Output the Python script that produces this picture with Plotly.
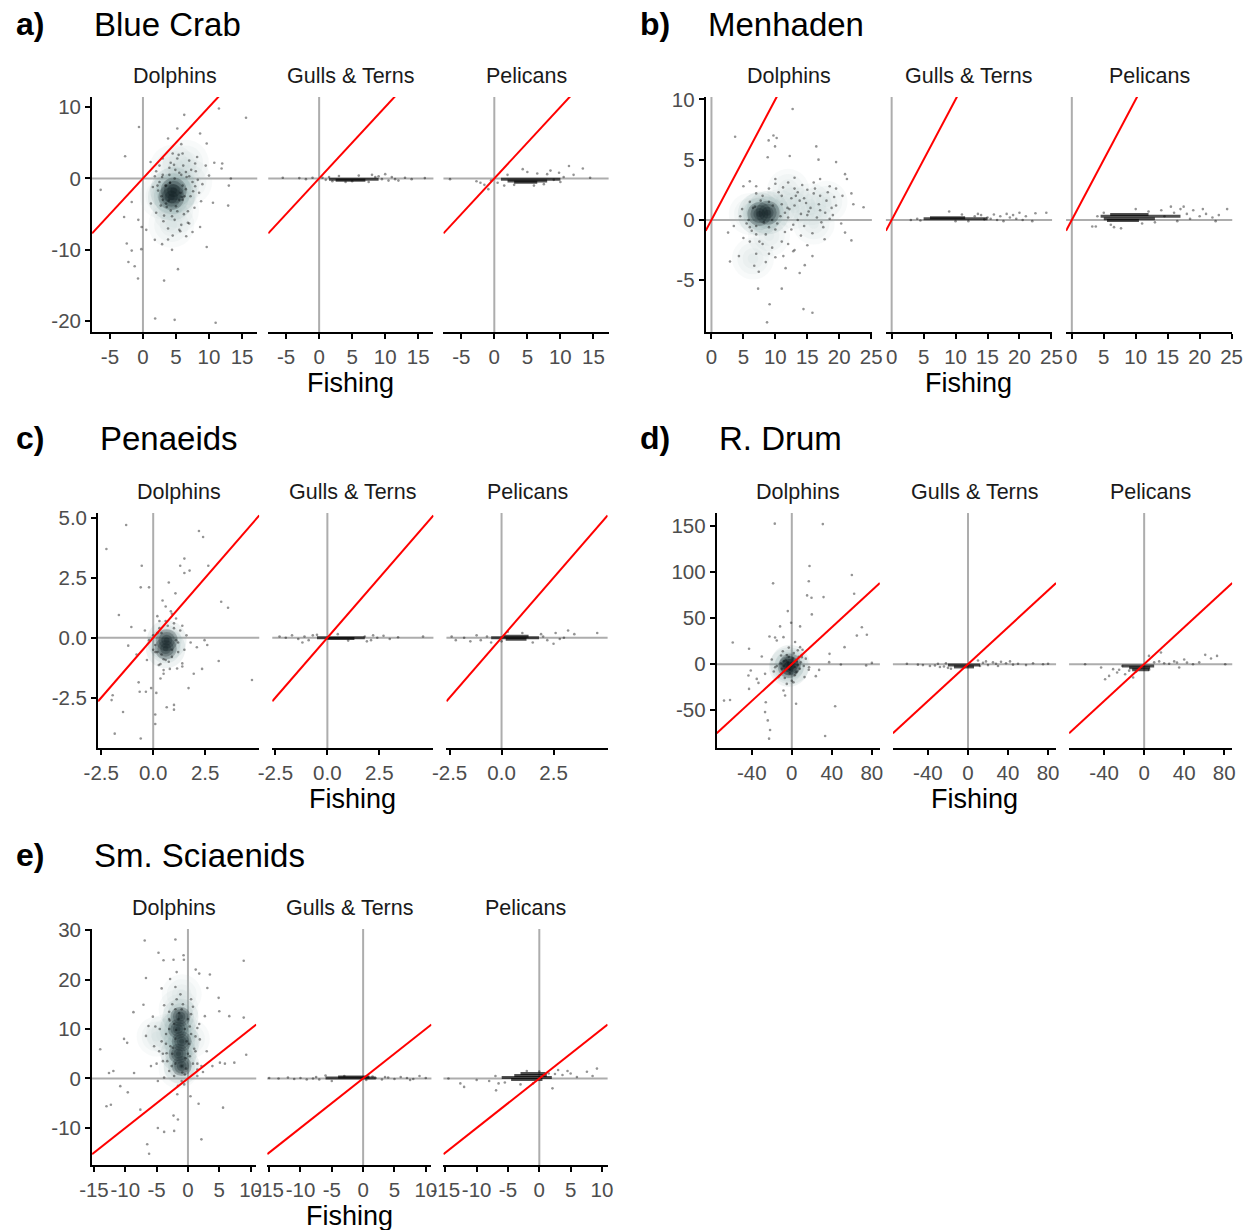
import plotly.graph_objects as go

W, H = 1250, 1230

# ------------------------------------------------------------------ data
PANEL_LABELS = ["a)", "b)", "c)", "d)", "e)"]
PANEL_TITLES = ["Blue Crab", "Menhaden", "Penaeids", "R. Drum", "Sm. Sciaenids"]
FACETS = ["Dolphins", "Gulls & Terns", "Pelicans"]
X_LABEL = "Fishing"

X_RANGES = [[-7.7, 17.3], [-0.9, 25.1], [-2.65, 5.1], [-75, 88], [-15.3, 10.9]]
Y_RANGES = [[-21.5, 11.4], [-9.3, 10.2], [-4.6, 5.2], [-91, 164], [-17.5, 30.2]]
X_TICKS = [[-5, 0, 5, 10, 15], [0, 5, 10, 15, 20, 25], [-2.5, 0, 2.5], [-40, 0, 40, 80],
           [-15, -10, -5, 0, 5, 10]]
X_TICKTEXT = [["-5", "0", "5", "10", "15"], ["0", "5", "10", "15", "20", "25"],
              ["-2.5", "0.0", "2.5"], ["-40", "0", "40", "80"],
              ["-15", "-10", "-5", "0", "5", "10"]]
Y_TICKS = [[-20, -10, 0, 10], [-5, 0, 5, 10], [-2.5, 0, 2.5, 5], [-50, 0, 50, 100, 150],
           [-10, 0, 10, 20, 30]]
Y_TICKTEXT = [["-20", "-10", "0", "10"], ["-5", "0", "5", "10"],
              ["-2.5", "0.0", "2.5", "5.0"], ["-50", "0", "50", "100", "150"],
              ["-10", "0", "10", "20", "30"]]

# ---- a) Blue Crab
A_DOL_X = [6.25, 11.5, 15.6, -0.6, -2.7, -6.4, 5.2, 3.8, 5.8, 8.65, 9.65, 1.15, 12.0, 13.3, 13.0,
           12.9, 10.6, 8.65, 9.65, -1.7, -2.85, -0.7, -0.2, -2.45, -1.7, -0.25, -2.2, -1.25, -0.75,
           5.3, 3.2, 1.85, 4.8, 11.0, 4.4, 2.9, 1.8, 3.8, 0.5, 7.5, 6.55, 5.65, 7.0, 10.0, 10.8, 11.9,
           2.0, 2.5, 3.0, 3.5, 4.0, 4.2, 5.5, 6.0, 6.5, 7.0, 7.2, 7.8, 8.0, 8.5, 2.8, 1.5, 3.2, 4.8,
           5.8, 6.2, 5.2, 6.0, 7.0, 8.2, 9.0, 9.5, 1.2, 2.0, 3.8, 4.5, 1.8, 6.8, 7.5, 3.0, 4.5, 8.8,
           4.1, 5.0, 5.9, 3.4, 6.6, 4.7, 2.3, 7.9,
           3.5, 4.0, 5.5, 6.0, 3.0, 4.8, 5.8, 6.3, 3.6, 5.2, 2.5, 4.2, 7.3, 7.6, 2.2, 3.1, 5.5, 6.8,
           4.4, 8.3, 2.7, 4.9, 6.1, 3.9, 5.7, 4.1, 6.5, 2.9, 5.4, 7.9]
A_DOL_Y = [8.9, 9.8, 8.5, 7.2, 3.1, -1.6, 7.0, 5.6, 4.8, 6.3, 4.9, 2.3, 2.1, 0.0, -1.0,
           -3.8, -3.4, -6.8, -9.6, -3.3, -5.4, -5.8, -6.8, -9.1, -10.1, -9.9, -11.7, -12.3, -14.0,
           -12.7, -14.3, -19.6, -19.8, -20.2, -10.0, -9.2, -8.6, -8.55, -7.2, -7.5, -8.1, -7.4, -6.3,
           0.4, 2.2, 1.4,
           1.0, -0.5, 0.5, -3.5, 1.5, -4.5, 0.8, -3.0, -1.5, 0.3, -2.5, -4.1, 1.0, -2.0, -2.5, -1.2,
           -5.2, -5.8, -6.5, -5.0, 2.8, 3.5, 2.5, 3.0, -0.8, 1.8, -3.5, -4.8, -7.0, -8.0, 0.3, -6.2,
           -0.5, 2.8, 3.5, -3.2, -0.6, -3.9, -2.6, -1.0, 0.2, 1.9, -1.7, -1.1,
           -1.0, 0.5, -3.0, -1.0, -3.0, 0.0, 0.5, -2.5, -4.0, -4.6, 1.8, 2.2, 1.2, -1.8, -1.0, -6.0,
           -7.2, -4.6, -5.3, -0.2, -3.8, 1.2, 1.8, -3.1, -2.0, -0.6, 0.9, 0.2, 3.3, 2.1]
A_DOL_CORE_X = [4.65, 4.3]
A_DOL_CORE_Y = [-1.7, -2.6]
A_DOL_HALO_X = [5.0, 4.5, 5.0, 4.3, 7.0, 3.0, 6.5]
A_DOL_HALO_Y = [-1.5, 1.5, -4.5, -6.5, -0.5, -2.5, 2.2]

A_GUL_X = [-5.5, -3.0, -2.0, -1.0, 0.5, 1.0, 1.5, 9.0, 9.5, 10.0, 11.0, 12.0, 13.0, 14.0, 8.0,
           7.5, 10.5, 6.0, 3.0, 4.0, 5.0, 2.0, 8.5, 11.5, 16.0]
A_GUL_Y = [0.1, 0.05, -0.1, 0.1, 0.1, -0.2, 0.2, 0.3, -0.1, 0.6, 0.2, -0.3, 0.1, -0.1, 0.5,
           -0.5, -0.3, 0.4, 0.35, -0.5, -0.4, -0.4, 0.2, -0.1, 0.05]
A_GUL_BAND_X0 = [1.5, 2.5]
A_GUL_BAND_X1 = [9.0, 7.0]
A_GUL_BAND_Y = [-0.1, -0.25]

A_PEL_X = [-6.7, -2.7, -2.1, -0.9, -1.5, -0.5, 0.5, 4.3, 5.0, 6.5, 8.0, 9.8, 11.3, 13.4, 12.0,
           10.5, 9.0, 7.5, 3.0, 2.0, 1.5, 14.5, 6.0, 8.5, 10.0]
A_PEL_Y = [-0.1, -0.4, -0.6, -1.5, -0.9, -0.3, -0.6, 1.3, 0.9, 0.7, 0.6, 0.8, 1.75, 1.4, 0.5,
           0.2, -0.2, -0.8, -0.9, 0.5, -1.0, 0.1, -1.0, 1.1, -0.5]
A_PEL_BAND_X0 = [1.0, 2.0, 3.0]
A_PEL_BAND_X1 = [10.0, 8.0, 6.5]
A_PEL_BAND_Y = [-0.1, -0.35, -0.55]

# ---- b) Menhaden
B_DOL_X = [12.7, 3.7, 9.7, 10.2, 8.95, 9.95, 16.4, 8.8, 12.25, 16.75, 19.5, 20.9, 21.2, 21.9, 23.8,
           22.2, 20.3, 20.9, 21.9, 17.7, 15.8, 14.6, 13.8, 12.8, 11.25, 11.6, 11.0, 7.3, 9.1, 14.4,
           15.8, 8.7, 2.9, 2.6, 4.3, 6.7, 7.4,
           5.0, 6.0, 7.0, 9.0, 10.0, 11.0, 12.0, 13.0, 13.5, 14.0, 15.0, 15.5, 16.0, 16.5, 17.0,
           17.5, 18.0, 18.5, 19.0, 19.5, 12.5, 11.0, 9.5, 8.0, 7.0, 6.0, 5.0, 4.5, 3.5, 14.0, 15.0,
           13.0, 10.0, 8.5, 7.0, 11.5, 20.5, 17.0, 13.0,
           6.0, 7.0, 9.0, 10.0, 11.0, 12.0, 8.0, 6.5, 9.5, 10.5, 12.5, 13.5, 14.5, 15.0, 16.0, 17.0,
           18.5, 11.5, 8.5, 7.5, 5.5, 4.8, 13.0, 14.5, 19.5, 10.0, 7.0, 6.0, 12.0, 9.0,
           6.8, 8.2, 9.6, 10.8, 5.8, 7.7, 9.0, 11.9, 6.3, 10.3,
           12.2, 13.8, 15.2, 16.8, 18.2, 19.2, 14.2, 16.2, 17.8, 12.8, 11.2, 15.8, 18.8, 13.2,
           17.2, 14.8]
B_DOL_Y = [9.2, 6.9, 7.0, 6.8, 6.6, 6.1, 6.1, 5.2, 5.3, 5.0, 4.8, 3.8, 3.4, 2.2, 1.05,
           1.3, -0.3, -1.05, -1.7, -1.6, -3.0, -3.75, -4.4, -2.6, -3.0, -4.0, -5.7, -5.7, -7.0, -7.4,
           -7.7, -8.5, -3.45, -1.05, -3.0, -3.8, -4.3,
           2.8, 3.2, 2.2, 2.6, 3.4, 2.0, 3.1, 1.2, 2.3, 0.5, 2.5, 1.0, 3.1, 0.2, 2.0,
           -0.6, 1.6, 2.8, 0.4, 1.2, -0.8, -1.8, -2.3, -2.0, -1.2, -0.6, -1.5, 0.3, -0.5, -1.3, -2.1,
           -2.5, -3.1, -3.5, -2.8, 0.6, 2.0, 3.4, 3.5,
           1.5, -0.5, 1.5, -0.8, 1.3, 0.2, 2.0, 1.0, 0.0, 2.3, 1.8, 0.0, 1.8, 0.4, 2.2, 0.8,
           0.1, -1.0, -1.2, -1.8, -0.3, 0.9, 2.6, -0.5, 2.6, 3.0, 2.8, -1.8, -2.0, -2.8,
           1.1, -0.2, 1.2, 0.3, 0.0, 1.6, -0.6, 1.0, -0.9, -0.3,
           0.9, 1.6, 0.7, 1.3, 2.3, 1.9, 2.9, 2.6, 0.6, -0.4, 2.7, -1.1, 1.0, 2.0, -0.2, 1.4]
B_DOL_CORE_X = [7.5, 8.8]
B_DOL_CORE_Y = [0.5, 0.6]
B_DOL_HALO_X = [8.0, 6.0, 10.5, 13.0, 15.5, 18.0, 12.0, 9.0, 6.5, 16.0]
B_DOL_HALO_Y = [0.7, 0.5, 0.8, 1.0, 1.3, 1.5, 2.5, -1.3, -3.2, -0.3]

B_GUL_X = [3.0, 4.0, 4.5, 9.0, 13.0, 14.0, 15.0, 16.0, 17.0, 18.0, 18.5, 19.0, 19.5, 20.0, 21.0,
           22.5, 24.2, 22.0, 17.5, 12.0, 15.5, 20.5, 11.0, 10.0, 14.5, 16.5, 13.5]
B_GUL_Y = [0.0, 0.1, -0.05, 0.7, 0.3, 0.4, 0.2, 0.45, 0.3, 0.5, 0.2, 0.4, 0.1, 0.6, 0.3,
           0.55, 0.6, -0.1, -0.1, -0.1, 0.1, 0.0, 0.45, -0.1, 0.05, 0.0, 0.5]
B_GUL_BAND_X0 = [5.0, 6.0]
B_GUL_BAND_X1 = [15.0, 11.5]
B_GUL_BAND_Y = [0.1, 0.18]

B_PEL_X = [3.2, 3.75, 6.1, 6.6, 7.7, 5.0, 4.0, 10.0, 12.0, 14.0, 15.5, 16.0, 17.0, 17.5, 18.0,
           19.0, 20.0, 21.0, 22.0, 23.0, 24.3, 18.5, 16.5, 14.5, 13.0, 11.0, 20.5, 22.5]
B_PEL_Y = [-0.55, -0.55, -0.4, -0.6, -0.7, 0.6, 0.3, 0.9, 0.7, 0.8, 1.1, 0.6, 0.9, 1.1, 0.5,
           0.8, 0.3, 0.5, 0.2, 0.4, 0.9, 0.1, -0.1, 0.3, -0.2, -0.3, 0.9, -0.1]
B_PEL_BAND_X0 = [4.5, 5.0, 6.0, 5.5]
B_PEL_BAND_X1 = [17.0, 13.0, 12.0, 10.5]
B_PEL_BAND_Y = [0.3, 0.1, 0.45, -0.05]

# ---- c) Penaeids
C_DOL_X = [-1.3, -2.25, 2.2, 2.4, 1.5, 1.3, 1.75, 1.5, 2.65, -0.55, -0.6, -0.2, 0.75, 3.27, 3.6,
           -1.65, -1.05, -1.2, -0.8, 2.6, 2.47, 2.1, 3.15, 2.35, 1.95, 1.7, 4.75, -0.7, -0.65,
           -0.35, -0.1, 0.15, -1.95, -2.0, -1.45, 0.1, 0.1, 0.65, 1.0, 1.0, -1.85, -0.6,
           1.4, 1.15, 0.5, 0.27, -0.3, 0.35, 0.6, 0.1, 0.85, 0.45, 1.07, 0.6,
           0.3, 1.0, 1.2, 0.1, 0.4, 0.9, 0.2, 1.3, 0.0, 0.6, 0.75, 1.5, 1.1, 0.35, -0.2, 1.6, 0.9,
           0.5, 1.4, 0.2, -0.4, 1.8,
           0.4, 0.9, 0.7, 1.1, 0.2, 0.5, 1.0, 0.3, 1.2, 0.8, 0.0, 1.4]
C_DOL_Y = [4.7, 3.7, 4.45, 4.2, 3.3, 3.0, 2.8, 2.7, 3.0, 3.0, 2.1, 2.1, 2.3, 1.5, 1.25,
           0.95, 0.45, -0.33, -0.7, -0.3, -0.1, -0.4, -0.97, -1.3, -1.5, -2.1, -1.76, -1.86, -2.25,
           -2.25, -2.1, -2.3, -2.4, -2.6, -3.1, -3.2, -3.6, -2.9, -2.8, -3.0, -4.0, -4.2,
           -1.07, -1.28, -1.35, -1.14, -0.93, -1.7, -0.93, -0.6, 1.1, 1.55, 1.85, 1.3,
           0.4, 0.4, -0.2, -0.3, -0.7, -0.8, 0.2, 0.3, 0.1, 0.7, -1.0, -0.5, 0.8, -1.1, -0.1, 0.1,
           1.0, -1.5, -1.2, 0.9, 0.3, -0.2,
           0.2, -0.5, 0.5, -0.1, -0.6, -0.9, 0.6, 0.7, -0.6, -1.3, -0.5, 0.5]
C_DOL_CORE_X = [0.65, 0.6]
C_DOL_CORE_Y = [-0.1, -0.45]
C_DOL_HALO_X = []
C_DOL_HALO_Y = []

C_GUL_X = [-2.3, -2.0, -1.7, -1.4, -1.1, -0.9, -0.7, 1.8, 2.1, 2.4, 2.7, 3.0, 3.4, 4.6, 1.9,
           0.5, 1.0, -1.2, -0.5, 2.2]
C_GUL_Y = [0.05, 0.0, 0.1, -0.05, 0.05, -0.1, 0.1, 0.05, -0.1, 0.0, 0.08, -0.05, 0.02, 0.05,
           -0.15, 0.15, -0.12, -0.2, 0.12, 0.1]
C_GUL_BAND_X0 = [-0.5, 0.0]
C_GUL_BAND_X1 = [1.8, 1.3]
C_GUL_BAND_Y = [0.0, -0.03]

C_PEL_X = [3.2, 2.6, 4.6, 3.5, 2.2, 2.5, 1.9, -2.2, -1.8, -1.5, -1.0, -0.7, -0.5, 0.0, -1.2,
           2.0, 3.0, -2.4, 0.3, 1.5, 1.0, 2.8]
C_PEL_Y = [0.3, 0.2, 0.2, 0.15, -0.1, -0.25, 0.15, -0.1, 0.0, -0.15, -0.1, 0.05, -0.2, -0.15,
           0.1, 0.05, 0.0, 0.05, 0.25, -0.2, 0.2, -0.05]
C_PEL_BAND_X0 = [-0.5, 0.1, 0.2]
C_PEL_BAND_X1 = [1.8, 1.3, 1.2]
C_PEL_BAND_Y = [0.0, 0.06, -0.06]

# ---- d) R. Drum
D_DOL_X = [-17, 31, -18.7, 17.7, 17, 15.3, 19.7, 31.7, 60, 62.3, 20, -4, 70, 65, 75, -11.7, -16.7,
           -22.3, -59, -42.7, 8.3, -0.7, 52.7, 37.7, 49, 74.3, 80, 37.3, 27.3, 24, -41, -42.7,
           -33.3, -67.7, -61.7, -26, -26.7, -24, -21.7, -22.7, 4.3, -6.7, -8.3, 43.3, 33.3, -30,
           8.3, 10.7, -16.7, -13.3, -5, 1.7, 12.7, 17.3, 10, -10.7, -15, -8.3, 3.3, -35, -43.3,
           -26.7,
           -10, -8, 5, 7, -12, 10, -5, 3, -15, 12, -7, 6, 0, -3, 14, -18, 8, -2, 2, -20, 17, -9,
           -4, 3, -6, 5, -2, 1, -8, 6, -3, 4, -11, 9]
D_DOL_Y = [152.5, 152, 87.7, 106.5, 90, 74.6, 72, 72.8, 96.7, 76.4, 54, 57.6, 40, 31, 32, 41, 29,
           30, 23.5, 16.7, 41, 45, 18.5, 11.2, -0.4, -1.4, 1.4, 2.2, -6.2, -13, -6.9, -26.8,
           -20.3, -39.5, -38.8, -41.3, -52, -61, -71.4, -80.8, -43, -34, -28.6, -45.7, -78, 8.3,
           18.5, 15.6, -3.3, -14, -21.4, -19.6, -14, -3.3, 7.6, 9.4, 25.7, 29.3, 24, -16, -12.3,
           -10.5,
           -5, 3, -8, 8, -12, 10, 10, -12, -2, -2, -15, 15, -18, 18, 6, -8, -5, -10, 12, 5, -6, 14,
           2, -3, 4, 3, -6, 6, -2, -1, 8, -9, 1, 2]
D_DOL_CORE_X = [-1.7, -3.0]
D_DOL_CORE_Y = [-0.4, -3.0]
D_DOL_HALO_X = []
D_DOL_HALO_Y = []

D_GUL_X = [-61, -45, -38, -33, -28, -24, -20, -22, 15, 20, 25, 28, 33, 38, 45, 50, 58, 65, 75,
           80, 12, 18, -30, -17, 10, 42, -50, 30]
D_GUL_Y = [0.5, -1, -2, -1.5, -3, -2.5, -4, 1, 1.5, -1, 2, 0.5, 2.5, 1, -0.5, 0.5, -1, 1, 0,
           0.5, -2, 3, 0.5, -5, 4, 3, -0.5, -2]
D_GUL_BAND_X0 = [-20, -14]
D_GUL_BAND_X1 = [12, 6]
D_GUL_BAND_Y = [-1, -3]

D_PEL_X = [61, 72.8, 66.8, 16.8, 4.8, 32.8, 42.8, 48.8, -39, -35, -27, -31, -59, -43, -19, -11,
           35, 81, -25, -15, -8, 5, 10, 15, 20, 25, -22, 55, 40, 30]
D_PEL_Y = [10.1, 9, 6.2, 12.7, 9, 1.8, 1.8, 0, -16.3, -12.7, -9, -5.4, 0, -3.6, -10.9, -14.5,
           -3.6, 0, -6, -7, -8, -6, 2, 3, 1, 0.5, -2, 2, 5, 3]
D_PEL_BAND_X0 = [-22, -15, -12]
D_PEL_BAND_X1 = [10, 6, 5]
D_PEL_BAND_Y = [-2, -4, -6]

# ---- e) Sm. Sciaenids
E_DOL_X = [-6.9, -2.0, -0.7, -0.65, -4.7, -3.9, -2.3, 8.9, 1.24, 1.8, 3.5, -6.7, -2.85, -1.8, 3.1,
           -4.2, -7.1, -8.7, 4.9, 5.0, 6.6, 8.9, -14, -10.2, -9.7, -12.6, -11.9, -8.6, -10.8, -9.6,
           -13.0, -12.3, -7.6, -1.7, 0.4, 1.7, 5.6, -2.3, -1.6, -4.8, -3.8, -2.2, 2.15, -6.5, -6.2,
           2.15, 2.4, 3.9, 5.1, 5.9, 7.4, 9.3, 3.0, 1.9, 1.5, 2.7, 0.5, -6.3, -6.7, -5.4, -5.9,
           -4.8,
           -4.0, -3.5, -3.0, -2.5, -2.0, -3.0, -1.0, 0.0, 0.5, 1.0, 1.5, -0.3, -2.8, -4.5, -5.0,
           -1.2, 0.8, -3.8, -2.2, -0.5, 1.8, -5.6, 0.3, -3.3, -4.2, 1.2, -2.0, -0.6, 1.5, -1.6,
           -2.0, -1.5, -0.5, -2.5, 0.0, -3.0, -1.0, -2.0, 0.5, -3.5, -1.8, 0.8, -2.6, -4.0, 1.2,
           -0.2, -3.0, -4.6, -0.8, 0.3, -2.2, -1.0, -3.8, 1.5, -5.2,
           -2.4, -0.4, -1.9, -2.9, 0.2, -3.4, -1.4, -0.9]
E_DOL_Y = [27.9, 28.1, 24.9, 24.0, 25.4, 23.9, 24.0, 23.8, 22.0, 21.2, 21.0, 20.3, 20.1, 21.5,
           18.3, 18.2, 14.9, 13.4, 16.3, 13.6, 12.6, 12.3, 5.9, 8.0, 7.2, 1.1, 1.5, 1.1, -1.55,
           -2.8, -5.6, -5.3, -6.3, -3.2, -3.6, -5.1, -5.9, -7.5, -8.3, -10.0, -10.8, -10.6, -12.3,
           -13.3, -15.2, 2.5, 1.3, 2.5, 3.2, 3.0, 3.2, 4.8, 5.5, 7.9, 10.2, 12.6, 16.0, 10.6, 8.6,
           6.5, 2.5, -0.5,
           5.0, 9.0, 12.0, 15.0, 3.0, 1.5, 14.0, 12.0, 9.0, 6.0, 3.0, 2.0, 6.5, 10.0, 3.0,
           17.0, 14.5, 14.8, 0.5, 0.8, 11.0, 12.5, 4.5, 3.5, 7.5, 8.5, 18.5, -1.2, 0.5, -1.5,
           8.0, 12.0, 10.0, 5.0, 5.0, 10.0, 2.5, 14.0, 13.0, 7.0, 16.0, 3.0, 2.5, 3.5, 5.5,
           7.5, 13.5, 5.5, 15.0, 10.5, 11.0, -0.5, 0.2, 1.8, 10.5,
           6.2, 4.1, 9.8, 11.7, 7.0, 5.1, 13.2, 1.2]
E_DOL_CORE_X = [-1.0, -1.5, -1.0, -1.6, -1.2]
E_DOL_CORE_Y = [2.5, 5.0, 7.5, 10.0, 12.5]
E_DOL_HALO_X = [-1.5, -1.5, -1.5, -1.5, -3.5, 0.3, -5.0, -1.0]
E_DOL_HALO_Y = [2.0, 6.0, 10.0, 14.0, 9.0, 8.0, 8.5, 17.0]

E_GUL_X = [-15, -13.5, -12, -11, -10, -9, -8, -7.5, -7, 2, 3, 4, 5, 6, 7, 8, 9, 10, 1.5, -6, -5,
           0.5, 3.5, -3, 7.5]
E_GUL_Y = [0.1, 0.0, 0.2, -0.1, 0.1, -0.2, 0.0, 0.3, -0.2, 0.1, -0.2, 0.2, -0.1, 0.3, 0.1, -0.1,
           0.5, 0.1, 0.4, 0.6, -0.5, -0.3, 0.3, 0.5, -0.3]
E_GUL_BAND_X0 = [-6.0, -4.0]
E_GUL_BAND_X1 = [2.0, 1.0]
E_GUL_BAND_Y = [0.1, 0.3]

E_PEL_X = [-14.5, -12.6, -12, -10, -8, -6.5, -6.9, -7, -5.5, 9.2, 7.6, 5, 3.7, 2.1, 6, 4.5, 2.5,
           8.5, 3, 1.5, -3, -2, 0, -1]
E_PEL_Y = [0, -1.0, -1.7, -0.3, -0.5, -1.0, -2.4, 0.5, -0.8, 2.0, 1.35, 1.0, 0.7, -2.0, 0.3, 1.5,
           0.9, 0.5, 1.7, 1.0, -1.2, 1.5, 1.4, -1.0]
E_PEL_BAND_X0 = [-6.0, -4.0, -3.0, -4.5]
E_PEL_BAND_X1 = [2.0, 1.2, 1.0, 0.5]
E_PEL_BAND_Y = [0.2, 0.6, 1.0, -0.2]

DOLPHIN_DATA = [
    (A_DOL_X, A_DOL_Y, A_DOL_CORE_X, A_DOL_CORE_Y, A_DOL_HALO_X, A_DOL_HALO_Y),
    (B_DOL_X, B_DOL_Y, B_DOL_CORE_X, B_DOL_CORE_Y, B_DOL_HALO_X, B_DOL_HALO_Y),
    (C_DOL_X, C_DOL_Y, C_DOL_CORE_X, C_DOL_CORE_Y, C_DOL_HALO_X, C_DOL_HALO_Y),
    (D_DOL_X, D_DOL_Y, D_DOL_CORE_X, D_DOL_CORE_Y, D_DOL_HALO_X, D_DOL_HALO_Y),
    (E_DOL_X, E_DOL_Y, E_DOL_CORE_X, E_DOL_CORE_Y, E_DOL_HALO_X, E_DOL_HALO_Y),
]
BIRD_DATA = [
    [(A_GUL_X, A_GUL_Y, A_GUL_BAND_X0, A_GUL_BAND_X1, A_GUL_BAND_Y),
     (A_PEL_X, A_PEL_Y, A_PEL_BAND_X0, A_PEL_BAND_X1, A_PEL_BAND_Y)],
    [(B_GUL_X, B_GUL_Y, B_GUL_BAND_X0, B_GUL_BAND_X1, B_GUL_BAND_Y),
     (B_PEL_X, B_PEL_Y, B_PEL_BAND_X0, B_PEL_BAND_X1, B_PEL_BAND_Y)],
    [(C_GUL_X, C_GUL_Y, C_GUL_BAND_X0, C_GUL_BAND_X1, C_GUL_BAND_Y),
     (C_PEL_X, C_PEL_Y, C_PEL_BAND_X0, C_PEL_BAND_X1, C_PEL_BAND_Y)],
    [(D_GUL_X, D_GUL_Y, D_GUL_BAND_X0, D_GUL_BAND_X1, D_GUL_BAND_Y),
     (D_PEL_X, D_PEL_Y, D_PEL_BAND_X0, D_PEL_BAND_X1, D_PEL_BAND_Y)],
    [(E_GUL_X, E_GUL_Y, E_GUL_BAND_X0, E_GUL_BAND_X1, E_GUL_BAND_Y),
     (E_PEL_X, E_PEL_Y, E_PEL_BAND_X0, E_PEL_BAND_X1, E_PEL_BAND_Y)],
]

# ------------------------------------------------------------------ layout geometry (pixels)
FACET_LEFTS = [[92, 268, 443], [705, 885, 1065], [98, 272, 446], [716, 892, 1068], [92, 267, 443]]
FACET_W = [165, 166, 161, 163, 164]
PANEL_TOP = [97, 97, 513, 513, 929]
PANEL_BOT = [332, 332, 748, 748, 1165]
LABEL_X = [12, 637, 12, 637, 12]
TITLE_Y = [22, 22, 438, 438, 855]
HALO_SIZE = [46, 42, 30, 30, 40]
CORE_SIZE = [26, 24, 22, 22, 20]

# the photographed page comes out slightly shrunk toward the centre; these map the
# wanted on-picture pixel positions back to figure pixels
SHIFT_X, SCALE_X = 14.0, 0.979
SHIFT_Y, SCALE_Y = 11.0, 0.991

FONT = "Liberation Sans, Arial, sans-serif"
PT_COLOR = "rgba(0,0,0,0.42)"

fig = go.Figure()
layout = dict(
    width=W, height=H, margin=dict(l=0, r=0, t=0, b=0),
    paper_bgcolor="white", plot_bgcolor="white", showlegend=False,
    font=dict(family=FONT), annotations=[], shapes=[],
)


def px(x):
    return max(0.0, (x - SHIFT_X) / SCALE_X) / W


def py(y):
    return 1 - max(0.0, (y - SHIFT_Y) / SCALE_Y) / H


def soft_blob(xs, ys, xr, yr, size, rgb, alpha, steps=4):
    """Stack concentric translucent markers so the blob fades toward its edge."""
    if not xs:
        return
    for s in range(steps):
        frac = 1 - s / steps
        fig.add_trace(go.Scatter(
            x=xs, y=ys, mode="markers", xaxis=xr, yaxis=yr, hoverinfo="skip",
            marker=dict(size=size * frac, color=f"rgba({rgb},{alpha})", line=dict(width=0))))


ax_idx = 0
for p in range(5):
    for f in range(3):
        ax_idx += 1
        xa = "xaxis" if ax_idx == 1 else f"xaxis{ax_idx}"
        ya = "yaxis" if ax_idx == 1 else f"yaxis{ax_idx}"
        xr = "x" if ax_idx == 1 else f"x{ax_idx}"
        yr = "y" if ax_idx == 1 else f"y{ax_idx}"
        left = FACET_LEFTS[p][f]
        right = left + FACET_W[p]
        layout[xa] = dict(
            domain=[px(left), px(right)], range=X_RANGES[p], anchor=yr,
            showgrid=False, zeroline=False, showline=True, linecolor="black", linewidth=2,
            ticks="outside", ticklen=5, tickwidth=1.5, tickcolor="black", tickangle=0,
            tickvals=X_TICKS[p], ticktext=X_TICKTEXT[p],
            tickfont=dict(size=20.5, color="#4D4D4D", family=FONT), fixedrange=True,
        )
        ydict = dict(
            domain=[py(PANEL_BOT[p]), py(PANEL_TOP[p])], range=Y_RANGES[p], anchor=xr,
            showgrid=False, zeroline=False, fixedrange=True,
        )
        if f == 0:
            ydict.update(showline=True, linecolor="black", linewidth=2, ticks="outside",
                         ticklen=5, tickwidth=1.5, tickcolor="black", tickangle=0,
                         tickvals=Y_TICKS[p], ticktext=Y_TICKTEXT[p],
                         tickfont=dict(size=20.5, color="#4D4D4D", family=FONT))
        else:
            ydict.update(showline=False, showticklabels=False, ticks="")
        layout[ya] = ydict

        # grey reference lines at 0
        layout["shapes"].append(dict(type="line", xref=xr, yref=f"{yr} domain", x0=0, x1=0,
                                     y0=0, y1=1, line=dict(color="#ADADAD", width=2),
                                     layer="below"))
        layout["shapes"].append(dict(type="line", xref=f"{xr} domain", yref=yr, x0=0, x1=1,
                                     y0=0, y1=0, line=dict(color="#ADADAD", width=2),
                                     layer="below"))

        if f == 0:
            dx, dy, cx, cy, hx, hy = DOLPHIN_DATA[p]
            # outer density envelope (light), teal shoulder, then dark core
            soft_blob(hx, hy, xr, yr, HALO_SIZE[p], "175,198,201", 0.09)
            soft_blob(cx, cy, xr, yr, CORE_SIZE[p] * 1.8, "95,135,140", 0.10)
            fig.add_trace(go.Scatter(x=dx, y=dy, mode="markers", xaxis=xr, yaxis=yr,
                                     marker=dict(size=2.6, color=PT_COLOR, line=dict(width=0))))
            soft_blob(cx, cy, xr, yr, CORE_SIZE[p], "8,20,23", 0.24)
        else:
            bx, by, b0, b1, bband = BIRD_DATA[p][f - 1]
            fig.add_trace(go.Scatter(x=bx, y=by, mode="markers", xaxis=xr, yaxis=yr,
                                     marker=dict(size=2.6, color=PT_COLOR, line=dict(width=0))))
            for k in range(len(b0)):
                fig.add_trace(go.Scatter(x=[b0[k], b1[k]], y=[bband[k], bband[k]], mode="lines",
                                         xaxis=xr, yaxis=yr, hoverinfo="skip",
                                         line=dict(color="rgba(0,0,0,0.68)", width=3)))
        # 1:1 line
        fig.add_trace(go.Scatter(x=X_RANGES[p], y=X_RANGES[p], mode="lines", xaxis=xr, yaxis=yr,
                                 line=dict(color="#FF0000", width=2), hoverinfo="skip"))

        # strip label
        layout["annotations"].append(dict(
            text=FACETS[f], x=px((left + right) / 2), y=py(PANEL_TOP[p] - 21),
            xref="paper", yref="paper", showarrow=False, xanchor="center", yanchor="middle",
            font=dict(size=21.5, color="#1A1A1A", family=FONT)))

    # panel label and title
    ty = max(TITLE_Y[p], 24)
    layout["annotations"].append(dict(
        text=f"<b>{PANEL_LABELS[p]}</b>", x=px(LABEL_X[p]), y=py(ty), xref="paper",
        yref="paper", showarrow=False, xanchor="left", yanchor="middle",
        font=dict(size=32, color="black", family=FONT)))
    layout["annotations"].append(dict(
        text=PANEL_TITLES[p], x=px(FACET_LEFTS[p][0]), y=py(ty), xref="paper",
        yref="paper", showarrow=False, xanchor="left", yanchor="middle",
        font=dict(size=33, color="black", family=FONT)))
    # x-axis title
    mid = (FACET_LEFTS[p][0] + FACET_LEFTS[p][2] + FACET_W[p]) / 2
    layout["annotations"].append(dict(
        text=X_LABEL, x=px(mid), y=py(PANEL_BOT[p] + 51), xref="paper", yref="paper",
        showarrow=False, xanchor="center", yanchor="middle",
        font=dict(size=27, color="black", family=FONT)))

fig.update_layout(**layout)
fig.write_html("out.html",
               post_script="document.body.style.margin='0px';"
                           "document.documentElement.style.overflow='hidden';")
